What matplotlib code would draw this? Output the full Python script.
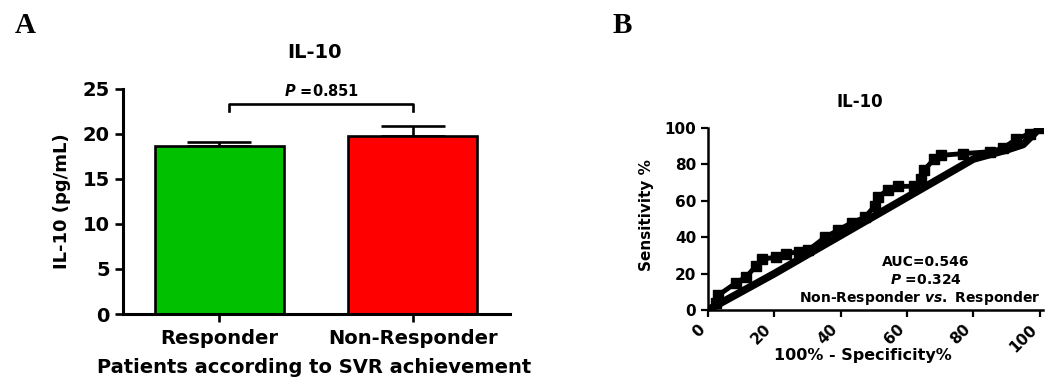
import matplotlib.pyplot as plt
import numpy as np

plt.rcParams['font.family'] = ['DejaVu Sans']
plt.rcParams['mathtext.fontset'] = 'custom'
plt.rcParams['mathtext.it'] = 'DejaVu Sans:bold:italic'
plt.rcParams['mathtext.rm'] = 'DejaVu Sans:bold'

# panel A data
grupos = ['Responder', 'Non-Responder']
medias = [18.7, 19.8]
errores = [0.4, 1.1]
colores = ['#00c000', '#ff0000']
p_barras = 'P =0.851'

# panel B data (ROC curve)
roc_x = [0, 2.5, 3, 8.5, 11.4, 14.4, 16.4, 20.4, 23.4, 27.4, 30.3, 35.3, 39.3, 43.3,
         47.3, 50.2, 51.2, 54.2, 57.2, 62.2, 64.2, 65.2, 68.2, 70.1, 77, 85, 89, 93, 97, 100]
roc_y = [0, 3.7, 8, 15, 18, 24, 28, 29, 31, 32, 33, 40, 44, 48,
         51, 57, 62, 66, 68, 68, 72, 77, 83, 85, 86, 87, 89, 94, 97, 100]
ref_x = [0, 20, 40, 60, 80, 90, 95, 100]
ref_y = [0, 20, 41, 62, 83, 88, 91, 100]
auc_txt = 'AUC=0.546'
p_roc = 'P =0.324'

fig = plt.figure(figsize=(10.45, 3.79), dpi=100)

# ---------- A ----------
ax = fig.add_axes([0.1177, 0.1715, 0.3703, 0.5937])
pos = np.arange(len(grupos))
ax.bar(pos, medias, width=0.665, color=colores, edgecolor='black', linewidth=1.9, zorder=2)
ax.errorbar(pos, medias, yerr=[[0, 0], errores], fmt='none', ecolor='black',
            elinewidth=1.9, capsize=23, capthick=1.9, zorder=1)
ax.set_xlim(-0.495, 1.5)
ax.set_ylim(0, 25)
ax.set_yticks([0, 5, 10, 15, 20, 25])
ax.set_xticks(pos)
ax.set_xticklabels(grupos, fontsize=14, fontweight='bold')
ax.tick_params(axis='y', labelsize=14, width=1.9, length=6)
ax.tick_params(axis='x', width=1.9, length=6, pad=5)
for t in ax.get_yticklabels():
    t.set_fontweight('bold')
for s in ['top', 'right']:
    ax.spines[s].set_visible(False)
for s in ['left', 'bottom']:
    ax.spines[s].set_linewidth(2.2)
ax.set_ylabel('IL-10 (pg/mL)', fontsize=13, fontweight='bold')
ax.yaxis.set_label_coords(-0.135, 0.5)
ax.set_xlabel('Patients according to SVR achievement', fontsize=14, fontweight='bold')
ax.xaxis.set_label_coords(0.494, -0.195)
ax.text(0.496, 1.164, 'IL-10', transform=ax.transAxes, ha='center', va='center',
        fontsize=14, fontweight='bold')
# bracket
yb = 23.3
ax.plot([pos[0] + 0.05, pos[0] + 0.05, pos[1], pos[1]], [yb - 0.7, yb, yb, yb - 0.7],
        color='black', lw=1.9, clip_on=False)
ax.text((pos[0] + pos[1]) / 2 + 0.03, 24.8, p_barras.replace('P', '$P$'), ha='center',
        va='center', fontsize=10.5, fontweight='bold')
fig.text(0.024, 0.934, 'A', fontsize=21, fontweight='bold', family='Liberation Serif',
         ha='center', va='center')

# ---------- B ----------
bx = fig.add_axes([0.6775, 0.182, 0.3206, 0.480])
bx.plot(ref_x, ref_y, color='black', lw=5.5, solid_capstyle='butt', zorder=2)
bx.plot(roc_x, roc_y, color='black', lw=3.5, marker='s', markersize=6.5, zorder=3)
bx.set_xlim(0, 101)
bx.set_ylim(0, 100)
bx.set_xticks([0, 20, 40, 60, 80, 100])
bx.set_yticks([0, 20, 40, 60, 80, 100])
bx.tick_params(axis='y', labelsize=11, width=1.6, length=5)
bx.tick_params(axis='x', labelsize=11, width=1.6, length=5)
for t in bx.get_yticklabels():
    t.set_fontweight('bold')
for t in bx.get_xticklabels():
    t.set_fontweight('bold')
    t.set_rotation(45)
    t.set_ha('right')
    t.set_va('top')
for s in ['top', 'right']:
    bx.spines[s].set_visible(False)
for s in ['left', 'bottom']:
    bx.spines[s].set_linewidth(1.8)
bx.set_ylabel('Sensitivity %', fontsize=11, fontweight='bold')
bx.yaxis.set_label_coords(-0.161, 0.52)
bx.set_xlabel('100% - Specificity%', fontsize=11.5, fontweight='bold')
bx.xaxis.set_label_coords(0.463, -0.21)
bx.text(0.454, 1.143, 'IL-10', transform=bx.transAxes, ha='center', va='center',
        fontsize=12, fontweight='bold')
bx.text(65.7, 26.4, auc_txt, ha='center', va='center', fontsize=10, fontweight='bold')
bx.text(65.7, 16.5, p_roc.replace('P', '$P$'), ha='center', va='center', fontsize=10,
        fontweight='bold')
bx.text(27.5, 6.6, 'Non-Responder $vs.$ Responder', ha='left', va='center',
        fontsize=10, fontweight='bold')
fig.text(0.595, 0.934, 'B', fontsize=21, fontweight='bold', family='Liberation Serif',
         ha='center', va='center')

fig.savefig('out.png', dpi=100)
